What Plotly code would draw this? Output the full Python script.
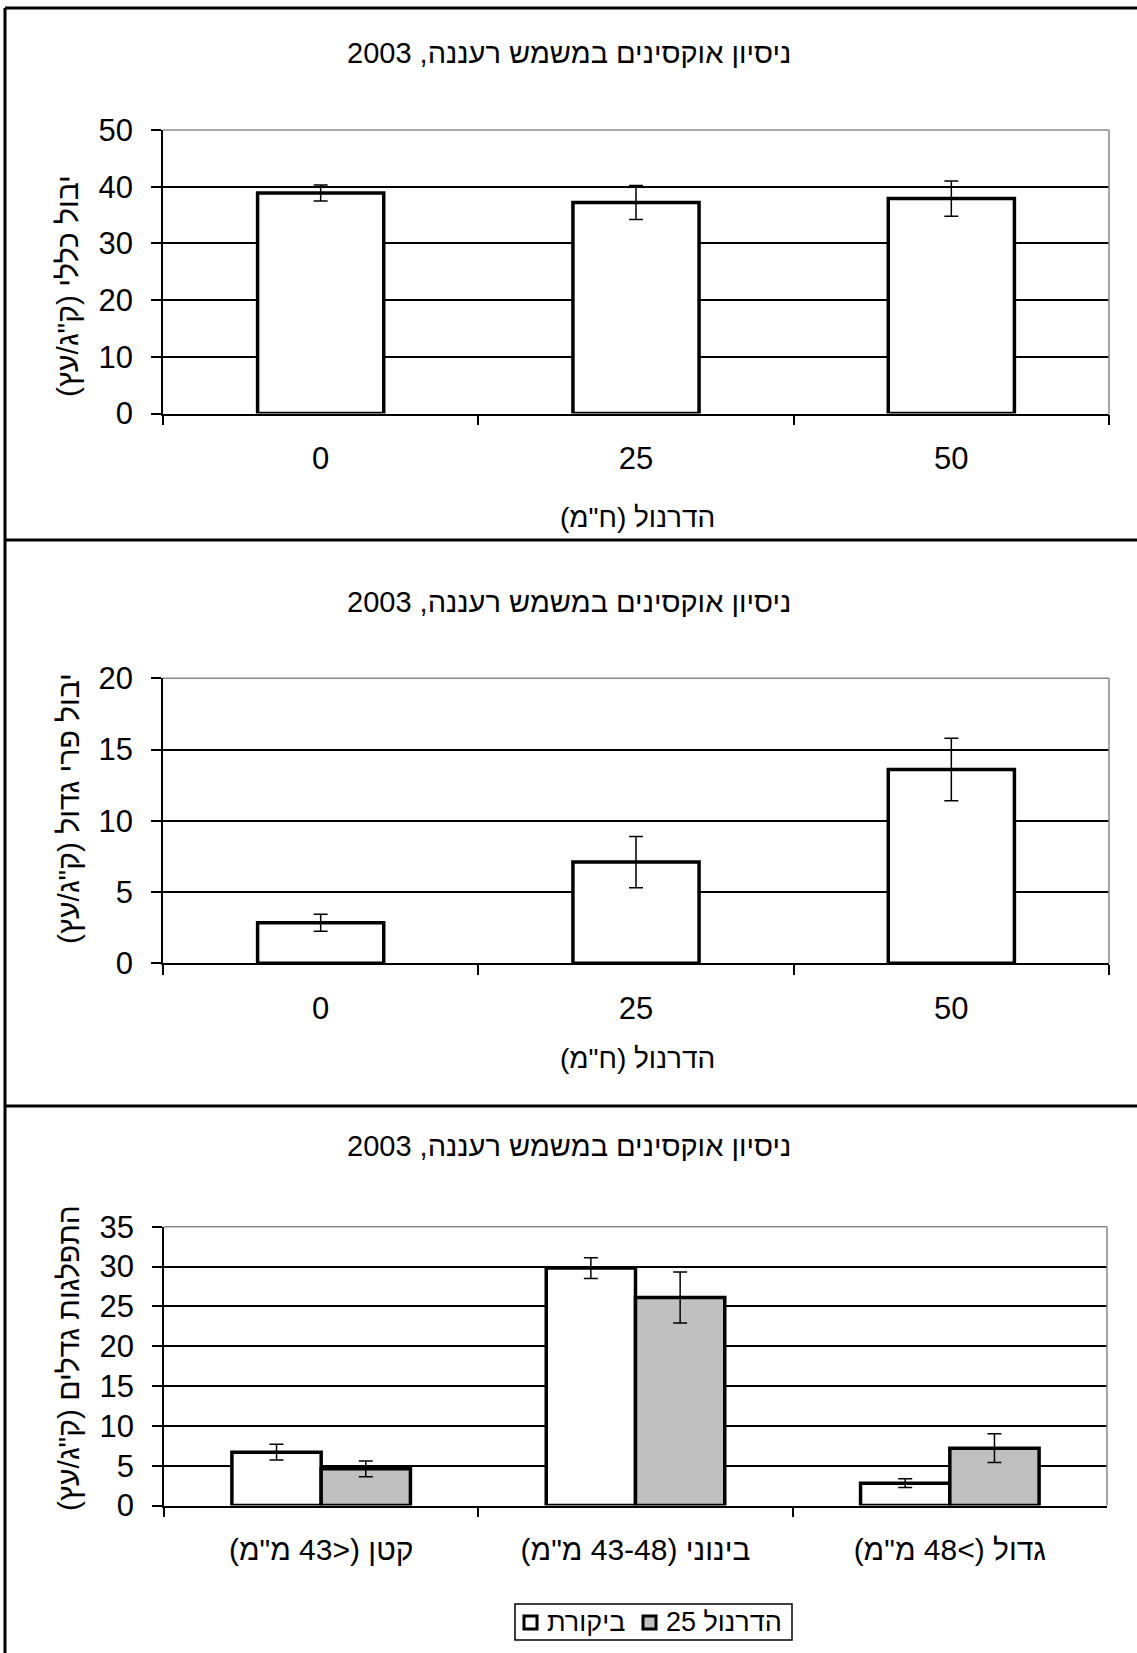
import plotly.graph_objects as go

# ---------------- data ----------------
title_text = "ניסיון אוקסינים במשמש רעננה, 2003"
dose_labels = ["0", "25", "50"]

total_yield = [38.9, 37.2, 37.9]
total_err = [1.4, 3.0, 3.1]

large_yield = [2.85, 7.1, 13.6]
large_err = [0.6, 1.8, 2.2]

size_labels = ['קטן (<43 מ"מ)', 'בינוני (43-48 מ"מ)', 'גדול (>48 מ"מ)']
control_vals = [6.7, 29.8, 2.8]
control_err = [1.0, 1.3, 0.55]
treat_vals = [4.6, 26.1, 7.2]
treat_err = [1.0, 3.2, 1.8]

series_names = ["ביקורת", "הדרנול 25"]
series_colors = ["white", "#C0C0C0"]
y1_title = 'יבול כללי (ק"ג/עץ)'
y2_title = 'יבול פרי גדול (ק"ג/עץ)'
y3_title = 'התפלגות גדלים (ק"ג/עץ)'
x_title = 'הדרנול (ח"מ)'

# ---------------- helpers ----------------
W, H = 1137, 1653
FONT = "Liberation Sans, Arial, DejaVu Sans, sans-serif"


def rtl(s):
    return "\u202b" + s + "\u202c"


def px_x(x):
    return x / W


def px_y(y):
    return 1 - y / H


# plot areas in pixels (left, right, top, bottom)
areas = [
    (163, 1109, 130, 413.5),
    (163, 1109, 678.3, 963.3),
    (164, 1107, 1226.7, 1505.5),
]

fig = go.Figure()

fig.add_trace(go.Bar(
    x=dose_labels, y=total_yield, xaxis="x", yaxis="y", width=0.4,
    marker=dict(color="white", line=dict(color="black", width=3.5)),
    error_y=dict(type="data", array=total_err, color="black", thickness=1.5, width=7),
    showlegend=False,
))
fig.add_trace(go.Bar(
    x=dose_labels, y=large_yield, xaxis="x2", yaxis="y2", width=0.4,
    marker=dict(color="white", line=dict(color="black", width=3.5)),
    error_y=dict(type="data", array=large_err, color="black", thickness=1.5, width=7),
    showlegend=False,
))
sl = [rtl(s) for s in size_labels]
fig.add_trace(go.Bar(
    x=sl, y=control_vals, xaxis="x3", yaxis="y3", width=0.284, offset=-0.284,
    name=series_names[0], showlegend=False,
    marker=dict(color=series_colors[0], line=dict(color="black", width=3.5)),
    error_y=dict(type="data", array=control_err, color="black", thickness=1.5, width=7),
))
fig.add_trace(go.Bar(
    x=sl, y=treat_vals, xaxis="x3", yaxis="y3", width=0.284, offset=0.0,
    name=series_names[1], showlegend=False,
    marker=dict(color=series_colors[1], line=dict(color="black", width=3.5)),
    error_y=dict(type="data", array=treat_err, color="black", thickness=1.5, width=7),
))

tickfont = dict(family=FONT, size=31, color="black")
y_ranges = [(50, 10), (20, 5), (35, 5)]
axis_names = [("xaxis", "yaxis", "x", "y"), ("xaxis2", "yaxis2", "x2", "y2"), ("xaxis3", "yaxis3", "x3", "y3")]
layout_axes = {}
for (l, r, t, b), (ymax, dt), (xa, ya, xr, yr) in zip(areas, y_ranges, axis_names):
    layout_axes[xa] = dict(
        domain=[px_x(l), px_x(r)], anchor=yr, type="category",
        range=[-0.5, 2.5], showline=True, linecolor="black", linewidth=1.5,
        ticks="outside", tickson="boundaries", ticklen=10, tickcolor="black", tickwidth=1.5,
        showgrid=False, tickfont=tickfont if xa != "xaxis3" else dict(family=FONT, size=30, color="black"),
        ticklabelstandoff=17, fixedrange=True, automargin=False,
    )
    layout_axes[ya] = dict(
        domain=[px_y(b), px_y(t)], anchor=xr, range=[0, ymax], dtick=dt,
        showline=True, linecolor="black", linewidth=1.5,
        ticks="outside", ticklen=10, tickcolor="black", tickwidth=1.5,
        showgrid=True, gridcolor="black", gridwidth=1.5, zeroline=False,
        tickfont=tickfont, ticklabelstandoff=12, fixedrange=True, automargin=False,
    )

shapes = []
for y in (8, 540, 1106):
    shapes.append(dict(type="line", xref="paper", yref="paper", x0=px_x(5), x1=1.0,
                       y0=px_y(y), y1=px_y(y), line=dict(color="black", width=3)))
shapes.append(dict(type="line", xref="paper", yref="paper", x0=px_x(5), x1=px_x(5),
                   y0=px_y(8), y1=0.0, line=dict(color="black", width=3)))
for (l, r, t, b) in areas:
    shapes.append(dict(type="line", xref="paper", yref="paper", x0=px_x(l), x1=px_x(r),
                       y0=px_y(t), y1=px_y(t), line=dict(color="#888888", width=1.5)))
    shapes.append(dict(type="line", xref="paper", yref="paper", x0=px_x(r), x1=px_x(r),
                       y0=px_y(t), y1=px_y(b), line=dict(color="#888888", width=1.5)))

annotations = []
title_font = dict(family=FONT, size=29, color="black")
for ty in (53, 602, 1146):
    annotations.append(dict(text=rtl(title_text), xref="paper", yref="paper", x=px_x(569), y=px_y(ty),
                            showarrow=False, xanchor="center", yanchor="middle", font=title_font))
lab_font = dict(family=FONT, size=28, color="black")
for ty in (517, 1058):
    annotations.append(dict(text=rtl(x_title), xref="paper", yref="paper", x=px_x(637), y=px_y(ty),
                            showarrow=False, xanchor="center", yanchor="middle", font=lab_font))
ylab_font = dict(family=FONT, size=30, color="black")
for txt, cy in ((y1_title, 286), (y2_title, 809), (y3_title, 1358)):
    annotations.append(dict(text=rtl(txt), xref="paper", yref="paper", x=px_x(68), y=px_y(cy),
                            showarrow=False, xanchor="center", yanchor="middle", textangle=-90,
                            font=ylab_font))

# manual legend (box, keys, labels)
leg_font = dict(family=FONT, size=27, color="black")
shapes.append(dict(type="rect", xref="paper", yref="paper", x0=px_x(515), x1=px_x(792),
                   y0=px_y(1640), y1=px_y(1604), line=dict(color="black", width=1.5),
                   fillcolor="white"))
for key_x0, text_x0, name, col in ((524, 545, series_names[0], series_colors[0]),
                                   (643, 664, series_names[1], series_colors[1])):
    shapes.append(dict(type="rect", xref="paper", yref="paper", x0=px_x(key_x0), x1=px_x(key_x0 + 13),
                       y0=px_y(1629), y1=px_y(1616), line=dict(color="black", width=3),
                       fillcolor=col))
    annotations.append(dict(text=rtl(name), xref="paper", yref="paper", x=px_x(text_x0), y=px_y(1622),
                            showarrow=False, xanchor="left", yanchor="middle", font=leg_font))

fig.update_layout(
    width=W, height=H, margin=dict(l=0, r=0, t=0, b=0, pad=0), autosize=False,
    paper_bgcolor="white", plot_bgcolor="white",
    font=dict(family=FONT, color="black"),
    shapes=shapes, annotations=annotations, showlegend=False,
    **layout_axes,
)

fig.write_html("out.html", config={"displayModeBar": False, "responsive": False},
               post_script="document.body.style.margin='0';")
